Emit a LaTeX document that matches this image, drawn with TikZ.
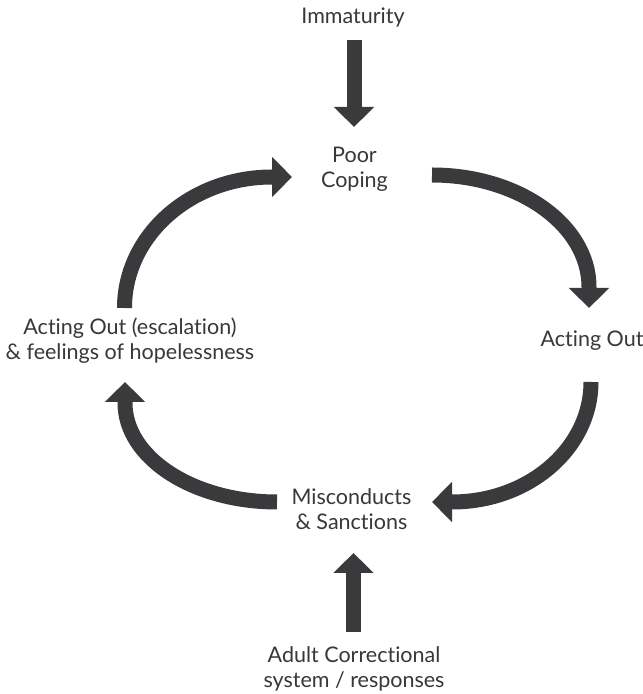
\documentclass[tikz,border=0pt]{standalone}
\usepackage{fontspec}
\setmainfont{Lato}[Ligatures=NoCommon, RawFeature={-calt;-dlig;-liga}]
\usetikzlibrary{arrows.meta}
\definecolor{arrowgray}{HTML}{3A3A3C}
\definecolor{textgray}{HTML}{383838}
\tikzset{
  lbl/.style={text=textgray, align=center, inner sep=0pt, font=\fontsize{21.5}{25.5}\selectfont},
  bigarrow/.style={draw=arrowgray, line width=15pt, -{Triangle[width=39pt,length=20pt]}},
}
\begin{document}
\begin{tikzpicture}[x=1pt,y=1pt]
\useasboundingbox[fill=white] (0,0) rectangle (643,694);
% text nodes (base = baseline of last line)
\node[lbl, anchor=base] (imm) at (353,670) {Immaturity};
\node[lbl, anchor=base] (poor) at (354.5,506) {Poor\\Coping};
\node[lbl, anchor=base] (act) at (592,347) {Act\kern0pt ing Out};
\node[lbl, anchor=base] (mis) at (351.5,164) {Misconducts\\\& Sanctions};
\node[lbl, anchor=base] (esc) at (130,334) {Act\kern0pt ing Out (escalation)\\\& feelings of hopelessness};
\node[lbl, anchor=base] (adult) at (354,6) {Adult Correctional\\system / responses};
% connector end points
\coordinate (immS) at (354,654);
\coordinate (poorN) at (354,567);
\coordinate (adultN) at (353.5,62);
\coordinate (misS) at (353.5,141);
\coordinate (poorE) at (432,519);
\coordinate (actN) at (589,386);
\coordinate (actS) at (591,312);
\coordinate (misE) at (432,192);
\coordinate (misW) at (277,192);
\coordinate (escS) at (125,312);
\coordinate (escN) at (124.5,386);
\coordinate (poorW) at (292,517);
% straight arrows
\draw[bigarrow] (immS) -- (poorN);
\draw[bigarrow] (adultN) -- (misS);
% cycle arrows
\draw[bigarrow] (escN) arc[start angle=180, end angle=90, x radius=147.5pt, y radius=131pt] -- (poorW);
\draw[bigarrow] (poorE) arc[start angle=90, end angle=0, x radius=157pt, y radius=112pt] -- (actN);
\draw[bigarrow] (actS) arc[start angle=0, end angle=-90, x radius=139pt, y radius=120pt] -- (misE);
\draw[bigarrow] (misW) arc[start angle=-90, end angle=-180, x radius=152pt, y radius=99pt] -- (escS);
\end{tikzpicture}
\end{document}
